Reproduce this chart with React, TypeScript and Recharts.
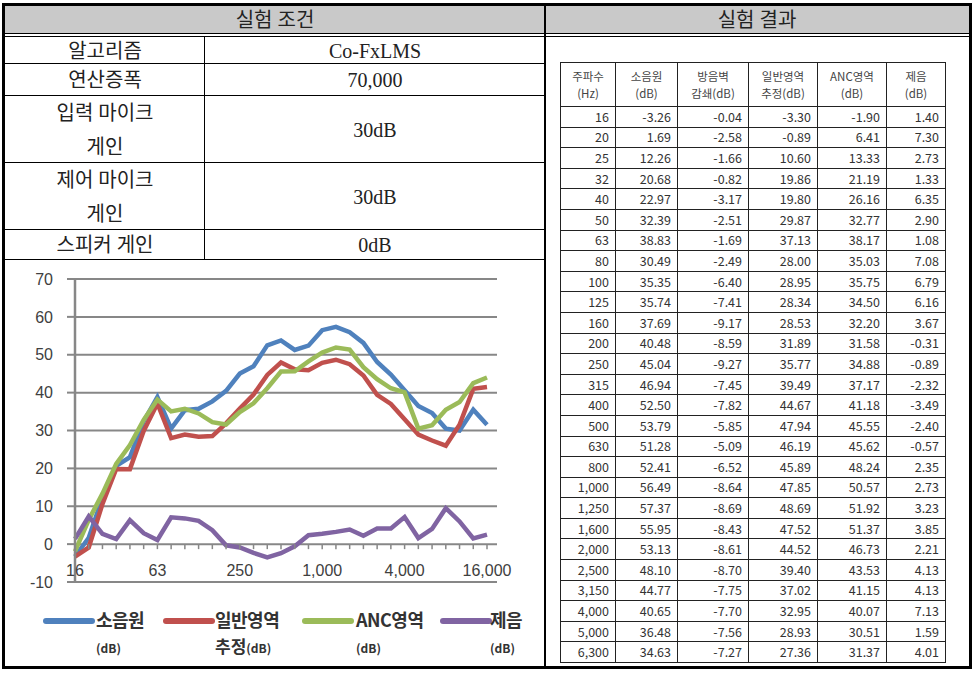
import React from "react";
import { LineChart, Line, XAxis, YAxis, CartesianGrid, Legend } from "recharts";

// 1/3 octave band centre frequencies (Hz)
const freqLabels = [
  "16", "20", "25", "32", "40", "50", "63", "80", "100", "125", "160", "200",
  "250", "315", "400", "500", "630", "800", "1,000", "1,250", "1,600", "2,000",
  "2,500", "3,150", "4,000", "5,000", "6,300", "8,000", "10,000", "12,500", "16,000",
];

const noiseSource = [
  -3.26, 1.69, 12.26, 20.68, 22.97, 32.39, 38.83, 30.49, 35.35, 35.74, 37.69, 40.48,
  45.04, 46.94, 52.5, 53.79, 51.28, 52.41, 56.49, 57.37, 55.95, 53.13, 48.1, 44.77,
  40.65, 36.48, 34.63, 30.5, 30, 35.5, 31.5,
];
const barrierLoss = [
  -0.04, -2.58, -1.66, -0.82, -3.17, -2.51, -1.69, -2.49, -6.4, -7.41, -9.17, -8.59,
  -9.27, -7.45, -7.82, -5.85, -5.09, -6.52, -8.64, -8.69, -8.43, -8.61, -8.7, -7.75,
  -7.7, -7.56, -7.27,
];
const generalZone = [
  -3.3, -0.89, 10.6, 19.86, 19.8, 29.87, 37.13, 28.0, 28.95, 28.34, 28.53, 31.89,
  35.77, 39.49, 44.67, 47.94, 46.19, 45.89, 47.85, 48.69, 47.52, 44.52, 39.4, 37.02,
  32.95, 28.93, 27.36, 26, 31.5, 41, 41.5,
];
const ancZone = [
  -1.9, 6.41, 13.33, 21.19, 26.16, 32.77, 38.17, 35.03, 35.75, 34.5, 32.2, 31.58,
  34.88, 37.17, 41.18, 45.55, 45.62, 48.24, 50.57, 51.92, 51.37, 46.73, 43.53, 41.15,
  40.07, 30.51, 31.37, 35.5, 37.5, 42.5, 44,
];
const reduction = [
  1.4, 7.3, 2.73, 1.33, 6.35, 2.9, 1.08, 7.08, 6.79, 6.16, 3.67, -0.31, -0.89, -2.32,
  -3.49, -2.4, -0.57, 2.35, 2.73, 3.23, 3.85, 2.21, 4.13, 4.13, 7.13, 1.59, 4.01,
  9.5, 6, 1.5, 2.5,
];
const tableRowCount = 27;

const yTicks = [-10, 0, 10, 20, 30, 40, 50, 60, 70];

const conditionLabels = ["알고리즘", "연산증폭", "입력 마이크\n게인", "제어 마이크\n게인", "스피커 게인"];
const conditionValues = ["Co-FxLMS", "70,000", "30dB", "30dB", "0dB"];
const conditionRowTops = [37, 64, 96, 163, 230, 260];

const tableHeaders = ["주파수\n(Hz)", "소음원\n(dB)", "방음벽\n감쇄(dB)", "일반영역\n추정(dB)", "ANC영역\n(dB)", "제음\n(dB)"];
const tableColWidths = [55, 62, 71, 69, 69, 59];

const seriesNames = ["소음원", "일반영역", "ANC영역", "제음"];
const seriesSubPrefix = ["", "추정", "", ""];
const seriesKeys = ["noise", "general", "anc", "reduction"];
const seriesColors = ["#4f81bd", "#c0504d", "#9bbb59", "#8064a2"];

const chartData = freqLabels.map((f, i) => ({
  freq: f,
  noise: noiseSource[i],
  general: generalZone[i],
  anc: ancZone[i],
  reduction: reduction[i],
}));

const GRID = "#878787";
const PLOT_H = 303;
const SERIF = "'Liberation Serif', 'Noto Sans CJK KR', serif";
const SANS = "'Liberation Sans', 'Noto Sans CJK KR', sans-serif";

function FreqTick({ x, y, index, payload }: any) {
  const zeroY = y - PLOT_H / 8;
  return (
    <g>
      <line x1={x} x2={x} y1={zeroY} y2={zeroY + 5} stroke={GRID} strokeWidth={1.5} />
      {index % 6 === 0 && (
        <text x={x} y={y - 6} textAnchor="middle" fontSize={16} fill="#404040" fontFamily={SANS}>
          {payload.value}
        </text>
      )}
    </g>
  );
}

const swatchLeft = [43, 163, 302, 440];
const labelLeft = [96, 215, 356, 490];

function LegendBox() {
  return (
    <div style={{ position: "relative", width: 545, height: 52, fontFamily: "'Noto Sans CJK KR', sans-serif", color: "#333", fontWeight: 700 }}>
      {seriesNames.map((n, i) => (
        <React.Fragment key={n}>
          <div
            style={{
              position: "absolute", left: swatchLeft[i], top: 12, width: 52, height: 6,
              borderRadius: 3, background: seriesColors[i],
            }}
          />
          <div style={{ position: "absolute", left: labelLeft[i], top: 1, fontSize: 18, lineHeight: "24px", whiteSpace: "nowrap", letterSpacing: -0.5 }}>
            {n}
          </div>
          <div style={{ position: "absolute", left: labelLeft[i], top: 29, lineHeight: "22px", whiteSpace: "nowrap" }}>
            {seriesSubPrefix[i] && <span style={{ fontSize: 17 }}>{seriesSubPrefix[i]}</span>}
            <span style={{ fontSize: 12 }}>(dB)</span>
          </div>
        </React.Fragment>
      ))}
    </div>
  );
}

function NoiseChart() {
  return (
    <LineChart width={545} height={400} data={chartData} margin={{ top: 17, right: 48, left: 0, bottom: 4 }}>
      <CartesianGrid vertical={false} stroke={GRID} strokeWidth={2} />
      <XAxis
        dataKey="freq"
        interval={0}
        axisLine={false}
        tickLine={false}
        tickSize={0}
        tickMargin={0}
        height={24}
        padding={{ left: 0, right: 10 }}
        tick={<FreqTick />}
      />
      <YAxis
        domain={[-10, 70]}
        ticks={yTicks}
        width={75}
        tickSize={8}
        tickMargin={14}
        axisLine={{ stroke: GRID, strokeWidth: 2.5 }}
        tickLine={{ stroke: GRID, strokeWidth: 2 }}
        tick={{ fontSize: 16, fill: "#404040", fontFamily: SANS }}
      />
      <Legend verticalAlign="bottom" content={() => <LegendBox />} wrapperStyle={{ left: 0, width: 545 }} />
      {seriesKeys.map((k, i) => (
        <Line
          key={k}
          dataKey={k}
          name={seriesNames[i]}
          type="linear"
          stroke={seriesColors[i]}
          strokeWidth={4.5}
          dot={false}
          isAnimationActive={false}
        />
      ))}
    </LineChart>
  );
}

const abs = (l: number, t: number, w: number, h: number): React.CSSProperties => ({
  position: "absolute", left: l, top: t, width: w, height: h, boxSizing: "border-box",
});

export default function App() {
  const cellText: React.CSSProperties = {
    display: "flex", alignItems: "center", justifyContent: "center", textAlign: "center",
    fontFamily: SERIF, fontSize: 20, color: "#222", whiteSpace: "pre-line", lineHeight: "34px",
  };
  return (
    <div style={{ position: "absolute", left: 0, top: 0, width: 976, height: 675, background: "#fff" }}>
      {/* header band */}
      <div style={{ ...abs(5, 6, 964, 27), background: "#c9c9c9" }} />
      <div style={{ ...abs(5, 6, 540, 27), ...cellText }}>실험 조건</div>
      <div style={{ ...abs(545, 6, 424, 27), ...cellText }}>실험 결과</div>
      {/* double rule under header */}
      <div style={{ ...abs(5, 33, 964, 4), borderTop: "1px solid #000", borderBottom: "1px solid #000" }} />
      {/* centre divider */}
      <div style={{ ...abs(544, 6, 2, 660), background: "#000" }} />
      {/* condition rows */}
      {conditionLabels.map((lab, i) => {
        const t = conditionRowTops[i];
        const h = conditionRowTops[i + 1] - t;
        return (
          <React.Fragment key={lab}>
            <div style={{ ...abs(5, t, 200, h), ...cellText }}>{lab}</div>
            <div style={{ ...abs(205, t, 340, h), ...cellText }}>{conditionValues[i]}</div>
            <div style={{ ...abs(5, t + h - 1, 540, 1), background: "#000" }} />
          </React.Fragment>
        );
      })}
      <div style={{ ...abs(204, 37, 1, 223), background: "#000" }} />
      {/* chart */}
      <div style={{ position: "absolute", left: 0, top: 262 }}>
        <NoiseChart />
      </div>
      {/* results table */}
      <table
        style={{
          position: "absolute", left: 560, top: 62, borderCollapse: "collapse", tableLayout: "fixed",
          width: 385, fontFamily: "'Noto Sans CJK KR', sans-serif", color: "#333",
        }}
      >
        <colgroup>
          {tableColWidths.map((w, i) => <col key={i} style={{ width: w }} />)}
        </colgroup>
        <thead>
          <tr style={{ height: 44 }}>
            {tableHeaders.map((h) => (
              <th key={h} style={{ border: "1px solid #222", fontSize: 11.5, fontWeight: 400, lineHeight: "17px", whiteSpace: "pre-line", padding: 0, color: "#444" }}>
                {h}
              </th>
            ))}
          </tr>
        </thead>
        <tbody>
          {freqLabels.slice(0, tableRowCount).map((f, i) => (
            <tr key={f} style={{ height: 20.6 }}>
              {[f, noiseSource[i].toFixed(2), barrierLoss[i].toFixed(2), generalZone[i].toFixed(2), ancZone[i].toFixed(2), reduction[i].toFixed(2)].map((v, j) => (
                <td key={j} style={{ border: "1px solid #222", fontSize: 12.5, textAlign: "right", padding: "0 6px 0 0", lineHeight: "18px" }}>
                  {v}
                </td>
              ))}
            </tr>
          ))}
        </tbody>
      </table>
      {/* outer frame */}
      <div style={{ ...abs(2, 3, 970, 666), border: "3px solid #000" }} />
    </div>
  );
}
